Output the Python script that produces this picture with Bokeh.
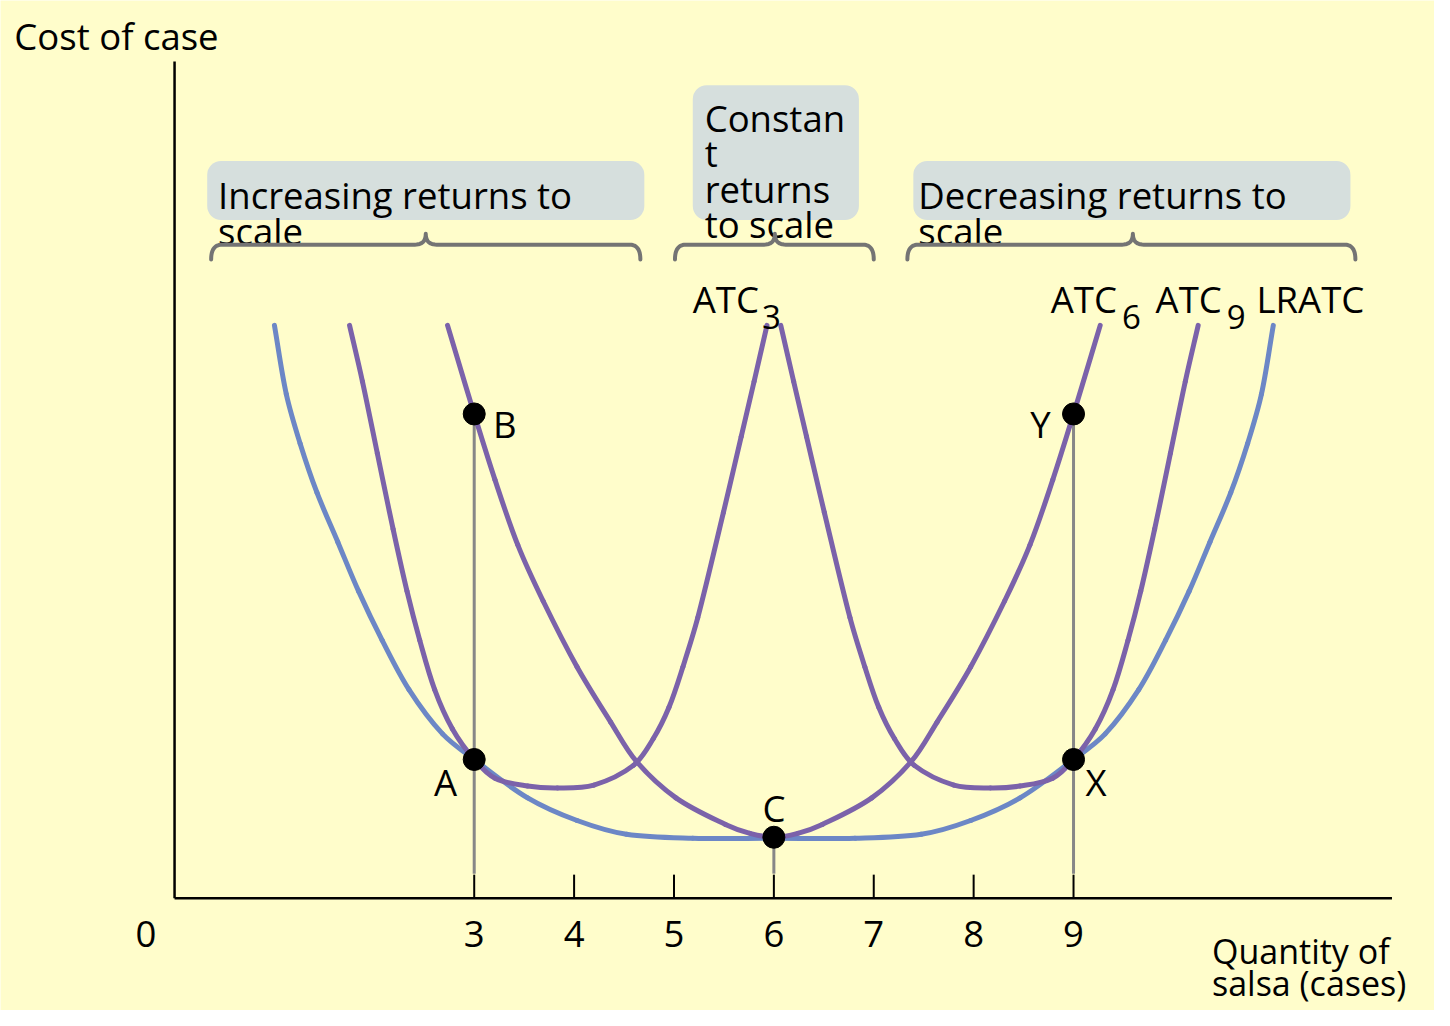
import math
from bokeh.plotting import figure
from bokeh.models import Range1d, BoxAnnotation
from bokeh.core.properties import value
from bokeh.embed import file_html
from bokeh.resources import INLINE

# ---------------- data ----------------
# x = quantity of salsa (cases), y = cost of case (arbitrary units)
lratc_x = [1.000, 1.119, 1.257, 1.426, 1.634, 1.842, 2.079, 2.347, 2.683, 3.000, 3.535, 4.030, 4.525, 5.188, 6.000,
           6.812, 7.475, 7.970, 8.465, 9.000, 9.317, 9.653, 9.921, 10.158, 10.366, 10.574, 10.743, 10.881, 11.000]
lratc_y = [5.82, 5.12, 4.62, 4.12, 3.62, 3.12, 2.62, 2.12, 1.67, 1.41, 1.02, 0.79, 0.65, 0.61, 0.61,
           0.61, 0.65, 0.79, 1.02, 1.41, 1.67, 2.12, 2.62, 3.12, 3.62, 4.12, 4.62, 5.12, 5.82]

atc3_x = [1.752, 1.881, 2.030, 2.188, 2.327, 2.455, 2.604, 2.782, 3.000, 3.208, 3.535, 3.832, 4.198,
          4.594, 4.792, 4.950, 5.089, 5.238, 5.495, 5.673, 5.802, 5.931]
atc3_y = [5.82, 5.25, 4.52, 3.75, 3.12, 2.62, 2.12, 1.72, 1.41, 1.22, 1.14, 1.12, 1.15,
          1.35, 1.62, 1.94, 2.35, 2.85, 3.92, 4.69, 5.25, 5.82]

atc6_x = [2.733, 3.000, 3.208, 3.436, 3.690, 4.030, 4.366, 4.624, 5.020, 5.515, 5.760, 6.000,
          6.240, 6.485, 6.980, 7.376, 7.634, 7.970, 8.310, 8.564, 8.792, 9.000, 9.267]
atc6_y = [5.82, 4.92, 4.25, 3.59, 3.02, 2.35, 1.79, 1.39, 1.02, 0.75, 0.66, 0.62,
          0.66, 0.75, 1.02, 1.39, 1.79, 2.35, 3.02, 3.59, 4.25, 4.92, 5.82]

atc9_x = [6.069, 6.198, 6.327, 6.505, 6.762, 6.911, 7.050, 7.208, 7.406, 7.802, 8.168, 8.465, 8.792,
          9.000, 9.218, 9.396, 9.545, 9.673, 9.812, 9.970, 10.119, 10.248]
atc9_y = [5.82, 5.25, 4.69, 3.92, 2.85, 2.35, 1.94, 1.62, 1.35, 1.15, 1.12, 1.14, 1.22,
          1.41, 1.72, 2.12, 2.62, 3.12, 3.75, 4.52, 5.25, 5.82]

point_names = ["A", "B", "C", "X", "Y"]
point_x = [3, 3, 6, 9, 9]
point_y = [1.41, 4.92, 0.62, 1.41, 4.92]

tick_values = [3, 4, 5, 6, 7, 8, 9]
tick_labels = ["3", "4", "5", "6", "7", "8", "9"]
origin_label = "0"

region_labels = [["Increasing returns to", "scale"],
                 ["Constan", "t", "returns", "to scale"],
                 ["Decreasing returns to", "scale"]]

curve_names = ["ATC", "ATC", "ATC", "LRATC"]
curve_subs = ["3", "6", "9"]

x_title_lines = ["Quantity of", "salsa (cases)"]
y_title = "Cost of case"

# ---------------- layout helpers (reference pixel -> data) ----------------
def X(px):
    return (px - 176) / 101.0

def Y(py):
    return (912 - py) / 100.0

FONT = value("Open Sans")
FS = value("36.5px")
BG = "#fffdcb"
BLUE = "#6c87c6"
PURPLE = "#7b62aa"
GREY = "#878787"
BRACE = "#747474"
BOX = "#d6dfdd"

p = figure(width=1434, height=1010, output_backend="svg", toolbar_location=None,
           x_range=Range1d(X(0), X(1450)), y_range=Range1d(Y(1026), Y(0)),
           x_axis_type=None, y_axis_type=None, min_border=0,
           background_fill_color=BG, border_fill_color=BG, outline_line_color=None)
p.xgrid.visible = False
p.ygrid.visible = False

# label boxes
boxes = [(209, 651, 163, 223), (700, 868, 86, 223), (923, 1365, 163, 223)]
for l, r, t, b in boxes:
    p.add_layout(BoxAnnotation(left=X(l), right=X(r), top=Y(t), bottom=Y(b),
                               fill_color=BOX, fill_alpha=1.0, line_color=None,
                               border_radius=14, level="underlay"))

# region label text
text_x, text_y, text_s = [], [], []
starts = [(220, 198), (712, 119), (928, 198)]
for (lx, by), lines in zip(starts, region_labels):
    for i, s in enumerate(lines):
        text_x.append(X(lx)); text_y.append(Y(by + i * 36)); text_s.append(s)
p.text(x=text_x, y=text_y, text=text_s, text_font=FONT, text_font_size=FS,
       text_color="black", text_baseline="alphabetic", text_align="left")

# braces
def quad(p0, c, p1, n=12):
    pts = []
    for k in range(n + 1):
        t = k / n
        pts.append(((1 - t) ** 2 * p0[0] + 2 * (1 - t) * t * c[0] + t ** 2 * p1[0],
                    (1 - t) ** 2 * p0[1] + 2 * (1 - t) * t * c[1] + t ** 2 * p1[1]))
    return pts

def brace(x0, x1, xc, yend=263, ybar=248, ytip=237, r=11):
    pts = quad((x0, yend), (x0, ybar), (x0 + r, ybar))
    pts += quad((xc - r, ybar), (xc, ybar), (xc, ytip))
    pts += quad((xc, ytip), (xc, ybar), (xc + r, ybar))
    pts += quad((x1 - r, ybar), (x1, ybar), (x1, yend))
    return [X(a) for a, _ in pts], [Y(b) for _, b in pts]

for x0, x1, xc in [(213, 647, 430), (682, 883, 783), (917, 1370, 1145)]:
    bx, by = brace(x0, x1, xc)
    p.line(bx, by, line_color=BRACE, line_width=4, line_join="round", line_cap="round")

# axes
p.segment(x0=[0, 0], y0=[0, 0], x1=[0, X(1407)], y1=[Y(62), 0], line_color="black", line_width=2.5)
p.segment(x0=tick_values, y0=[0] * len(tick_values), x1=tick_values, y1=[Y(888)] * len(tick_values),
          line_color="black", line_width=2)
p.text(x=tick_values, y=[Y(948)] * len(tick_values), text=tick_labels, text_font=FONT,
       text_font_size=FS, text_align="center", text_baseline="alphabetic", text_color="black")
p.text(x=[X(147)], y=[Y(948)], text=[origin_label], text_font=FONT, text_font_size=FS,
       text_align="center", text_baseline="alphabetic", text_color="black")

# axis titles
p.text(x=[X(14)], y=[Y(36)], text=[y_title], text_font=FONT, text_font_size=FS,
       text_align="left", text_baseline="alphabetic", text_color="black")
p.text(x=[X(1225), X(1225)], y=[Y(966), Y(998)], text=x_title_lines, text_font=FONT,
       text_font_size=value("34px"), text_align="left", text_baseline="alphabetic", text_color="black")

# grey drop lines
p.segment(x0=[3, 9, 6], y0=[point_y[1], point_y[4], point_y[2]], x1=[3, 9, 6], y1=[Y(887)] * 3,
          line_color=GREY, line_width=3)

# smooth curve rendering through the read points (cubic Bezier pieces)
def smooth_curve(xs, ys, color):
    sx, sy = 101.0, 100.0
    P = [(x * sx, y * sy) for x, y in zip(xs, ys)]
    n = len(P)
    T = []
    for i in range(n):
        a = P[max(i - 1, 0)]
        b = P[min(i + 1, n - 1)]
        dx, dy = b[0] - a[0], b[1] - a[1]
        L = math.hypot(dx, dy) or 1.0
        T.append((dx / L, dy / L))
    x0, y0, x1, y1, cx0, cy0, cx1, cy1 = ([] for _ in range(8))
    for i in range(n - 1):
        d = math.hypot(P[i + 1][0] - P[i][0], P[i + 1][1] - P[i][1]) / 3.0
        x0.append(P[i][0] / sx); y0.append(P[i][1] / sy)
        x1.append(P[i + 1][0] / sx); y1.append(P[i + 1][1] / sy)
        cx0.append((P[i][0] + T[i][0] * d) / sx); cy0.append((P[i][1] + T[i][1] * d) / sy)
        cx1.append((P[i + 1][0] - T[i + 1][0] * d) / sx); cy1.append((P[i + 1][1] - T[i + 1][1] * d) / sy)
    p.bezier(x0=x0, y0=y0, x1=x1, y1=y1, cx0=cx0, cy0=cy0, cx1=cx1, cy1=cy1,
             line_color=color, line_width=5, line_cap="round")

smooth_curve(lratc_x, lratc_y, BLUE)
smooth_curve(atc3_x, atc3_y, PURPLE)
smooth_curve(atc6_x, atc6_y, PURPLE)
smooth_curve(atc9_x, atc9_y, PURPLE)

# points
p.scatter(point_x, point_y, size=22, fill_color="black", line_color="black")

# point labels
lab_x = [X(450), X(498), X(782), X(1097), X(1062)]
lab_y = [Y(794), Y(430), Y(820), Y(794), Y(430)]
lab_align = ["center", "left", "center", "left", "right"]
for nm, lx, ly, al in zip(point_names, lab_x, lab_y, lab_align):
    p.text(x=[lx], y=[ly], text=[nm], text_font=FONT, text_font_size=FS,
           text_align=al, text_baseline="alphabetic", text_color="black")

# curve labels with subscripts
main_lx = [700, 1062, 1168, 1270]
sub_lx = [770, 1134, 1240]
p.text(x=[X(v) for v in main_lx], y=[Y(303)] * 4, text=curve_names, text_font=FONT,
       text_font_size=FS, text_align="left", text_baseline="alphabetic", text_color="black")
p.text(x=[X(v) for v in sub_lx], y=[Y(322)] * 3, text=curve_subs, text_font=FONT,
       text_font_size=value("33px"), text_align="left", text_baseline="alphabetic", text_color="black")

open("out.html", "w").write(file_html(p, INLINE))
